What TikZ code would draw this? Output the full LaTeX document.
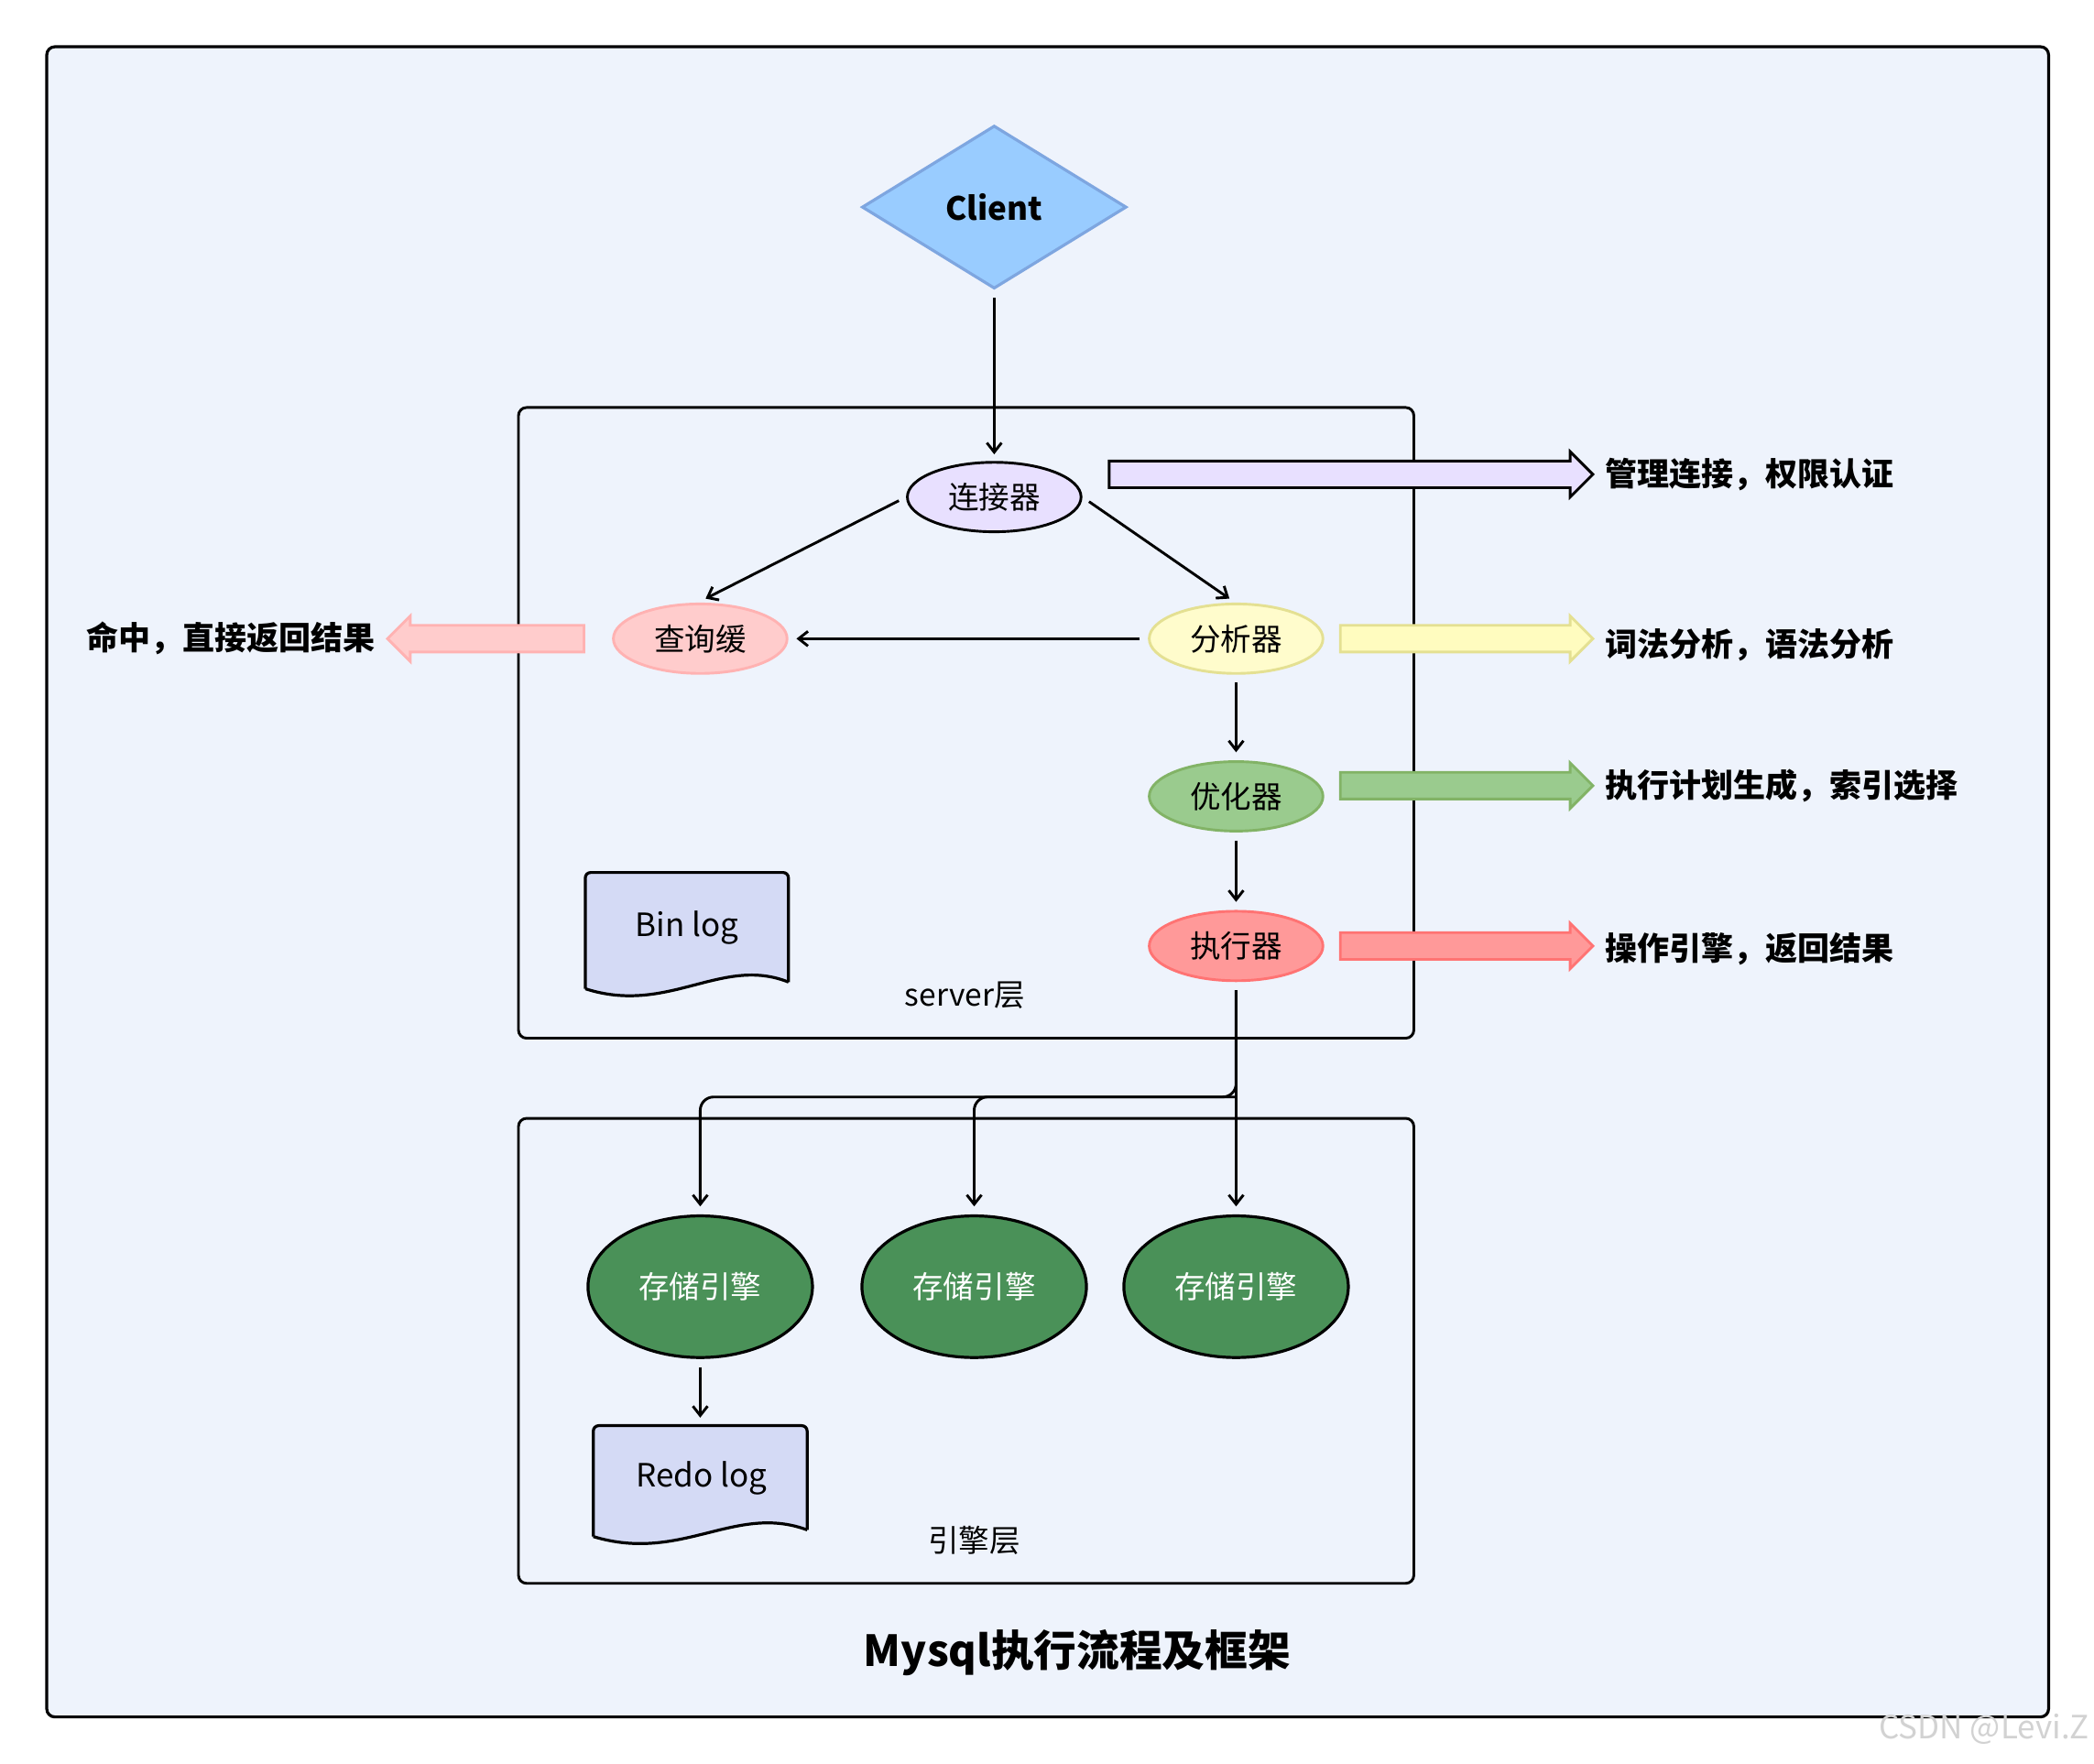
\documentclass[tikz,border=0pt]{standalone}
\usepackage{fontspec}
\setmainfont{Noto Sans CJK SC}
\usetikzlibrary{shapes.geometric,arrows.meta}
\definecolor{bg}{HTML}{EEF3FC}
\definecolor{stg}{HTML}{4A9158}
\definecolor{docf}{HTML}{D4DAF5}
\definecolor{cf}{HTML}{99CCFF}
\definecolor{cd}{HTML}{7EA6E0}
\definecolor{vf}{HTML}{E8E0FF}
\definecolor{gf}{HTML}{9ACB8E}
\definecolor{gd}{HTML}{82B366}
\begin{document}
\begin{tikzpicture}[x=1pt,y=-1pt,
  el/.style={ellipse,draw,line width=2pt,minimum width=130pt,minimum height=52pt,inner sep=0pt,font=\fontsize{23}{26}\selectfont},
  se/.style={ellipse,draw=black,line width=2.2pt,fill=stg,minimum width=168pt,minimum height=106pt,inner sep=0pt,text=white,font=\fontsize{23}{26}\selectfont},
  con/.style={-{Straight Barb[length=7pt,width=11pt]},line width=2pt},
  lab/.style={font=\bfseries\fontsize{24}{27}\selectfont,anchor=west},
  barrow/.style={line width=2pt}]
\useasboundingbox (0,0) rectangle (1567,1320);
\fill[white] (0,0) rectangle (1567,1320);
\draw[line width=2.2pt,fill=bg,rounded corners=6pt] (35,35) rectangle (1533,1285);
\draw[line width=2pt,rounded corners=6pt] (388,305) rectangle (1058,777);
\draw[line width=2pt,rounded corners=6pt] (388,837) rectangle (1058,1185);
\node[font=\fontsize{23}{26}\selectfont] (sl) at (722,745) {server层};
\node[font=\fontsize{23}{26}\selectfont] (el) at (729,1153) {引擎层};
\node[diamond,draw=cd,fill=cf,line width=2.2pt,aspect=1.62,minimum width=198pt,minimum height=122pt,inner sep=0pt,font=\bfseries\fontsize{24}{28}\selectfont] (client) at (744,155) {Client};
\node[el,fill=vf] (lj) at (744,372) {连接器};
\node[el,draw=red!30,fill=red!20] (cx) at (524,478) {查询缓};
\node[el,draw=yellow!60!gray!60,fill=yellow!20] (fx) at (925,478) {分析器};
\node[el,draw=gd,fill=gf] (yh) at (925,596) {优化器};
\node[el,draw=red!55,fill=red!40] (zx) at (925,708) {执行器};
\node[se] (s1) at (524,963) {存储引擎};
\node[se] (s2) at (729,963) {存储引擎};
\node[se] (s3) at (925,963) {存储引擎};
% documents
\fill[docf] (438,740) -- (438,653) -- (590,653) -- (590,735) .. controls (540,715) and (500,760) .. (438,740) -- cycle;
\draw[line width=2.2pt,rounded corners=4pt] (438,740) -- (438,653) -- (590,653) -- (590,735);
\draw[line width=2.2pt] (590,735) .. controls (540,715) and (500,760) .. (438,740);
\node[font=\fontsize{24}{28}\selectfont] (bl) at (514,694) {Bin log};
\fill[docf] (444,1150) -- (444,1067) -- (604,1067) -- (604,1145) .. controls (550,1125) and (510,1170) .. (444,1150) -- cycle;
\draw[line width=2.2pt,rounded corners=4pt] (444,1150) -- (444,1067) -- (604,1067) -- (604,1145);
\draw[line width=2.2pt] (604,1145) .. controls (550,1125) and (510,1170) .. (444,1150);
\node[font=\fontsize{24}{28}\selectfont] (rl) at (525,1106) {Redo log};
\coordinate (rtop) at (524,1061);
% connectors
\coordinate (ljt) at (744,340);
\draw[con] (client.south) ++(0,6) -- (ljt);
\draw[con,shorten <=6pt] (lj.west) -- (528,448);
\draw[con,shorten <=6pt] (lj.east) -- (920,448);
\draw[con,shorten <=6pt,shorten >=6pt] (fx.west) -- (cx.east);
\draw[con,shorten <=6pt,shorten >=6pt] (fx.south) -- (yh.north);
\draw[con,shorten <=6pt,shorten >=6pt] (yh.south) -- (zx.north);
\coordinate (j) at (925,821);
\draw[con,shorten <=6pt,shorten >=6pt] (zx.south) -- (s3.north);
\draw[con,rounded corners=10pt,shorten <=6pt,shorten >=6pt] (zx.south) -- (j) -- (524,821) -- (s1.north);
\draw[con,rounded corners=10pt,shorten >=6pt] (j) -- (729,821) -- (s2.north);
\draw[con,shorten <=6pt] (s1.south) -- (rtop);
% block arrows
\draw[barrow,fill=vf] (830,345)--(1175,345)--(1175,338)--(1192,355)--(1175,372)--(1175,365)--(830,365)--cycle;
\draw[barrow,draw=yellow!60!gray!60,fill=yellow!25] (1003,468)--(1175,468)--(1175,461)--(1192,478)--(1175,495)--(1175,488)--(1003,488)--cycle;
\draw[barrow,draw=gd,fill=gf] (1003,578)--(1175,578)--(1175,571)--(1192,588)--(1175,605)--(1175,598)--(1003,598)--cycle;
\draw[barrow,draw=red!55,fill=red!40] (1003,698)--(1175,698)--(1175,691)--(1192,708)--(1175,725)--(1175,718)--(1003,718)--cycle;
\draw[barrow,draw=red!30,fill=red!20] (437,468)--(307,468)--(307,461)--(290,478)--(307,495)--(307,488)--(437,488)--cycle;
\node[lab] (t1) at (1198,355) {管理连接，权限认证};
\node[lab] (t2) at (1198,483) {词法分析，语法分析};
\node[lab] (t3) at (1198,588) {执行计划生成，索引选择};
\node[lab] (t4) at (1198,710) {操作引擎，返回结果};
\node[lab,anchor=east] (t5) at (284,478) {命中，直接返回结果};
\node[font=\bfseries\fontsize{32}{36}\selectfont] (title) at (806,1237) {Mysql执行流程及框架};
\node[text=gray!35,font=\fontsize{24}{28}\selectfont,anchor=east] (wm) at (1567,1294) {CSDN @Levi.Z};
\end{tikzpicture}
\end{document}
